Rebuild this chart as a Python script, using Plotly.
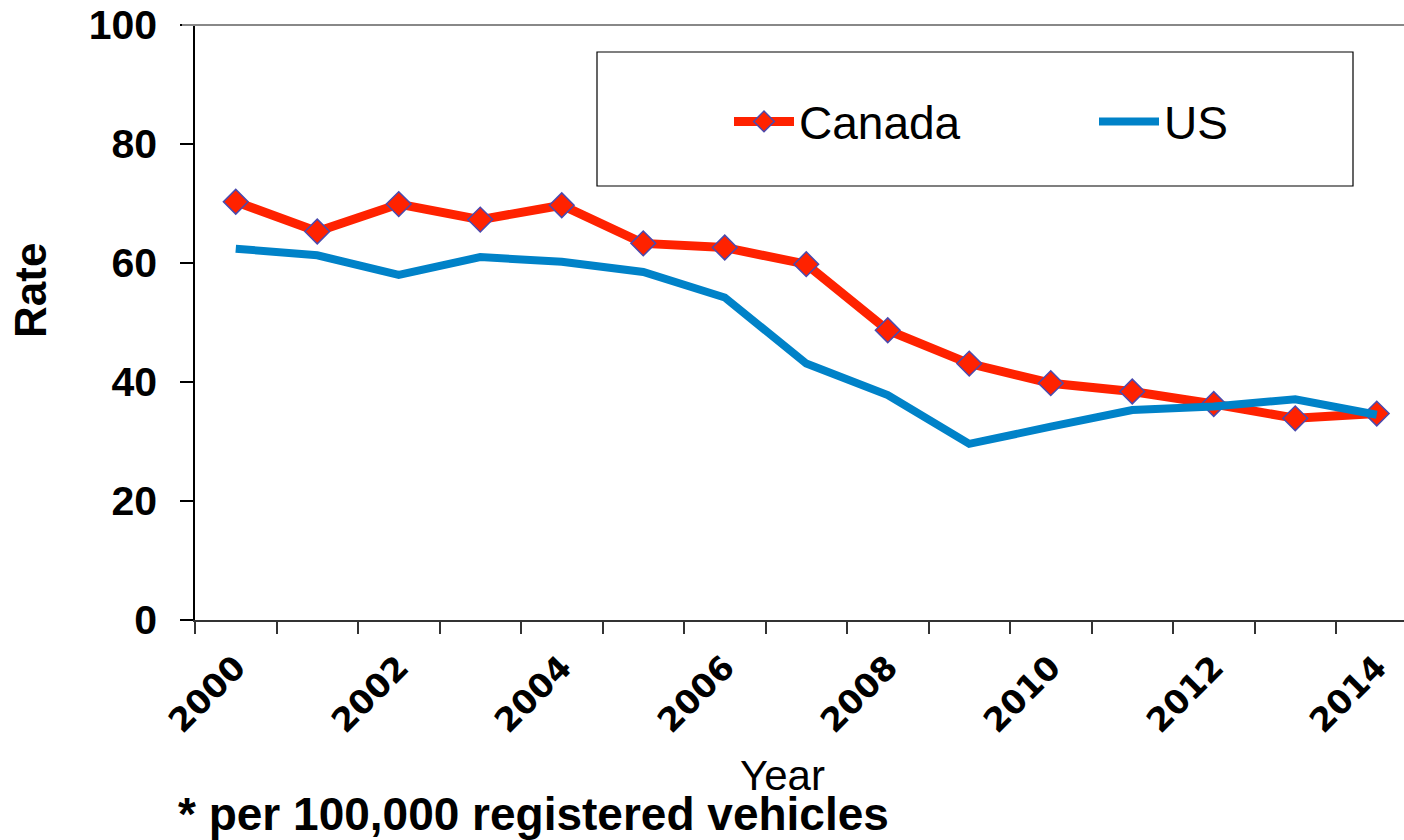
import plotly.graph_objects as go

years = list(range(2000, 2015))
canada = [70.3, 65.3, 69.9, 67.3, 69.7, 63.3, 62.6, 59.8, 48.7, 43.1, 39.8, 38.4, 36.3, 33.9, 34.7]
us = [62.4, 61.3, 58.0, 61.0, 60.2, 58.5, 54.2, 43.1, 37.8, 29.6, 32.5, 35.3, 35.9, 37.1, 34.5]
y_ticks = [0, 20, 40, 60, 80, 100]
x_label_years = years[::2]

W, H = 1404, 840
L, R, T, B = 195, 0, 25, 220
cat_w = 81.5
plot_w = W - L - R
plot_h = H - T - B
x_range = [years[0] - 0.5, years[0] - 0.5 + plot_w / cat_w]

def px_x(p):
    return (p - L) / plot_w

def px_y(p):
    return (H - B - p) / plot_h

fig = go.Figure()
fig.add_trace(go.Scatter(
    x=years, y=canada, name="Canada", mode="lines+markers", legend="legend",
    line=dict(color="#FF2200", width=9),
    marker=dict(symbol="diamond", size=19, color="#FF2200",
                line=dict(color="#4A4AAE", width=1.5)),
))
fig.add_trace(go.Scatter(
    x=years, y=us, name="US", mode="lines", legend="legend2",
    line=dict(color="#0082C8", width=8),
))

axis_font = dict(family="DejaVu Sans", size=33, color="black")
leg_font = dict(family="Liberation Sans", size=46, color="black")

fig.update_layout(
    width=W, height=H,
    margin=dict(l=L, r=R, t=T, b=B, pad=0, autoexpand=False),
    paper_bgcolor="white", plot_bgcolor="white",
    showlegend=True,
    legend=dict(
        x=px_x(729), xanchor="left", y=px_y(85), yanchor="top",
        font=leg_font, itemwidth=60, bgcolor="rgba(0,0,0,0)",
    ),
    legend2=dict(
        x=px_x(1094), xanchor="left", y=px_y(85), yanchor="top",
        font=leg_font, itemwidth=60, bgcolor="rgba(0,0,0,0)",
    ),
    xaxis=dict(
        range=x_range, showgrid=False, zeroline=False,
        showline=True, linecolor="#333333", linewidth=1.5,
        tickmode="array", tickvals=x_label_years,
        ticktext=[f"<b>{v}</b>" for v in x_label_years],
        ticks="", tickangle=-45, tickfont=axis_font, ticklabelstandoff=13,
        minor=dict(ticks="outside", tick0=years[0] - 0.5, dtick=1,
                   ticklen=12, tickcolor="#333333", tickwidth=1.5, showgrid=False),
    ),
    xaxis2=dict(
        overlaying="x", anchor="y", side="bottom", range=x_range,
        showgrid=False, zeroline=False, showline=False, showticklabels=False,
        tickmode="linear", tick0=years[0] - 0.5, dtick=1,
        ticks="inside", ticklen=13, tickcolor="#333333", tickwidth=1.5,
    ),
    yaxis=dict(
        range=[0, 100], showgrid=False, zeroline=False,
        showline=True, linecolor="black", linewidth=1.5,
        tickmode="array", tickvals=y_ticks,
        ticktext=[f"<b>{v}</b>" for v in y_ticks],
        ticks="outside", ticklen=13, tickcolor="black", tickwidth=1.5,
        tickfont=dict(family="Liberation Sans", size=41, color="black"),
        ticklabelstandoff=15,
    ),
    yaxis2=dict(
        overlaying="y", anchor="x", side="left", range=[0, 100],
        showgrid=False, zeroline=False, showline=False, showticklabels=False,
        tickmode="array", tickvals=y_ticks,
        ticks="inside", ticklen=13, tickcolor="black", tickwidth=1.5,
    ),
    shapes=[
        dict(type="line", xref="paper", yref="paper", x0=px_x(182), x1=1, y0=1, y1=1,
             line=dict(color="#888888", width=2), layer="above"),
        dict(type="rect", xref="paper", yref="paper",
             x0=px_x(597), x1=px_x(1353), y0=px_y(186), y1=px_y(52),
             line=dict(color="black", width=1.2), fillcolor="rgba(0,0,0,0)", layer="below"),
    ],
    annotations=[
        dict(text="<b>Rate</b>", xref="paper", yref="paper", x=px_x(30), y=px_y(291),
             textangle=-90, showarrow=False, xanchor="center", yanchor="middle",
             font=dict(family="Liberation Sans", size=44, color="black")),
        dict(text="Year", xref="paper", yref="paper", x=px_x(782), y=px_y(775),
             showarrow=False, xanchor="center", yanchor="middle",
             font=dict(family="Liberation Sans", size=42, color="black")),
        dict(text="<b>* per 100,000 registered vehicles</b>", xref="paper", yref="paper",
             x=px_x(176), y=px_y(814), showarrow=False, xanchor="left", yanchor="middle",
             font=dict(family="Liberation Sans", size=46, color="black")),
    ],
)

fig.write_html("out.html")
